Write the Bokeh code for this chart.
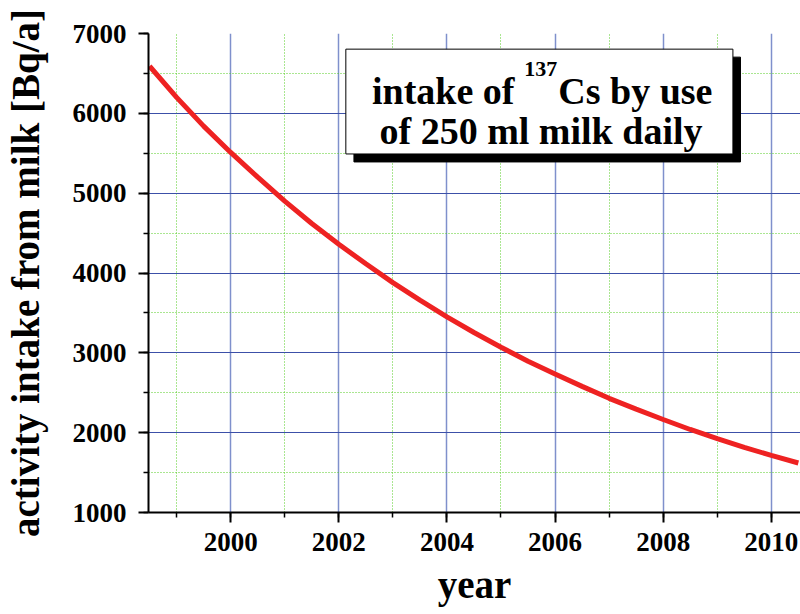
from bokeh.plotting import figure
from bokeh.models import Range1d, SingleIntervalTicker, Label, ColumnDataSource, Title
from bokeh.embed import file_html
from bokeh.resources import INLINE

# ---- data ----
years = [1998.5, 1999.0, 1999.5, 2000.0, 2000.5, 2001.0, 2001.5, 2002.0, 2002.5,
         2003.0, 2003.5, 2004.0, 2004.5, 2005.0, 2005.5, 2006.0, 2006.5, 2007.0,
         2007.5, 2008.0, 2008.5, 2009.0, 2009.5, 2010.0, 2010.5]
activity = [6590, 6200, 5840, 5510, 5200, 4900, 4620, 4360, 4115,
            3880, 3660, 3450, 3255, 3070, 2895, 2735, 2580, 2430,
            2295, 2165, 2040, 1925, 1815, 1715, 1620]

x_title = "year"
y_title = "activity intake from milk [Bq/a]"
note_line1_a = "intake of"
note_sup = "137"
note_line1_b = "Cs by use"
note_line2 = "of 250 ml milk daily"

FONT = "Liberation Serif"

p = figure(width=800, height=614, output_backend="svg", toolbar_location=None,
           x_range=Range1d(1998.48, 2010.54), y_range=Range1d(1000, 7000),
           min_border_left=146, min_border_right=0, min_border_top=33,
           min_border_bottom=102)
p.outline_line_color = None
p.background_fill_color = "white"
p.border_fill_color = "white"

p.xaxis.ticker = SingleIntervalTicker(interval=2, num_minor_ticks=2)
p.yaxis.ticker = SingleIntervalTicker(interval=1000, num_minor_ticks=2)

for ax in (p.xaxis, p.yaxis):
    ax.axis_line_color = "black"
    ax.axis_line_width = 2
    ax.major_tick_line_color = "black"
    ax.major_tick_line_width = 2
    ax.major_tick_out = 10
    ax.major_tick_in = 0
    ax.minor_tick_line_color = "black"
    ax.minor_tick_line_width = 1.5
    ax.minor_tick_out = 5
    ax.minor_tick_in = 0
    ax.major_label_text_font = FONT
    ax.major_label_text_font_style = "bold"
    ax.major_label_text_font_size = "27px"
    ax.major_label_text_color = "black"
    ax.axis_label_text_font = FONT
    ax.axis_label_text_font_style = "bold"
    ax.axis_label_text_font_size = "39px"
    ax.axis_label_text_color = "black"

p.yaxis.axis_label = y_title
p.xaxis.major_label_standoff = 10
p.yaxis.major_label_standoff = 12
p.yaxis.axis_label_standoff = 23

# x-axis title as a title placed below the axis
p.add_layout(Title(text=x_title, align="center", text_font=FONT,
                   text_font_style="bold", text_font_size="39px",
                   text_color="black", standoff=15, offset=0), "below")

p.xgrid.grid_line_color = "#7f90cc"
p.xgrid.grid_line_width = 1.5
p.ygrid.grid_line_color = "#3c50a8"
p.ygrid.grid_line_width = 1
for g in (p.xgrid, p.ygrid):
    g.minor_grid_line_color = "#55cc22"
    g.minor_grid_line_dash = "1 2"
    g.minor_grid_line_width = 1

src = ColumnDataSource(dict(x=years, y=activity))
p.line("x", "y", source=src, line_color="#ee2222", line_width=5)

# ---- annotation box with shadow ----
p.quad(left=2002.28, right=2009.43, top=6704, bottom=5391,
       fill_color="black", line_color="black")
p.quad(left=2002.13, right=2009.29, top=6804, bottom=5491,
       fill_color="white", line_color="black", line_width=1)

common = dict(text_font=FONT, text_font_style="bold", text_color="black",
              text_baseline="alphabetic")
p.add_layout(Label(x=2005.25, y=6279, text=note_line1_a, text_align="right",
                   text_font_size="38px", **common))
p.add_layout(Label(x=2005.43, y=6554, text=note_sup, text_align="left",
                   text_font_size="22px", **common))
p.add_layout(Label(x=2006.06, y=6279, text=note_line1_b, text_align="left",
                   text_font_size="38px", **common))
p.add_layout(Label(x=2005.74, y=5779, text=note_line2, text_align="center",
                   text_font_size="38px", **common))

open("out.html", "w").write(file_html(p, INLINE))
